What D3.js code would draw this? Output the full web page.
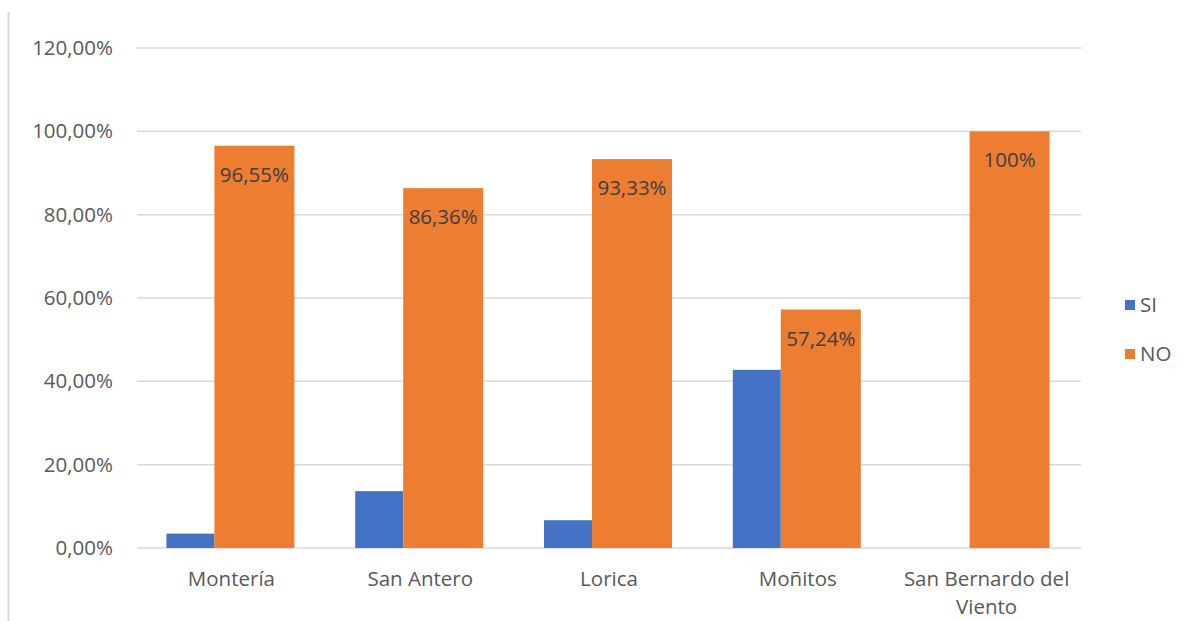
<!DOCTYPE html>
<html>
<head>
<meta charset="utf-8">
<script src="https://cdn.jsdelivr.net/npm/d3@7"></script>
<style>
  body { margin: 0; background: #fff; }
  svg { display: block; }
</style>
</head>
<body>
<script>
'use strict';

// chart data
const categories = ["Montería", "San Antero", "Lorica", "Moñitos", "San Bernardo del Viento"];
const siValues = [3.45, 13.64, 6.67, 42.76, 0];
const noValues = [96.55, 86.36, 93.33, 57.24, 100];
const noLabels = ["96,55%", "86,36%", "93,33%", "57,24%", "100%"];
const yTicks = [0, 20, 40, 60, 80, 100, 120];
const seriesNames = ["SI", "NO"];

const width = 1182, height = 621;
const font = "'Open Sans', sans-serif";
const fsize = "20.5px";
const colors = { SI: "#4472C4", NO: "#ED7D31" };

const svg = d3.select("body").append("svg")
  .attr("width", width)
  .attr("height", height);

// chart area border on the left
svg.append("line")
  .attr("x1", 8.5).attr("x2", 8.5)
  .attr("y1", 12).attr("y2", height)
  .attr("stroke", "#d9d9d9")
  .attr("stroke-width", 2);

const xScale = d3.scaleBand()
  .domain(categories)
  .range([137, 1081]);

const yScale = d3.scaleLinear()
  .domain([0, 120])
  .range([548, 48]);

// gridlines
svg.append("g")
  .selectAll("line")
  .data(yTicks)
  .enter()
  .append("line")
    .attr("x1", 137)
    .attr("x2", 1081)
    .attr("y1", d => yScale(d))
    .attr("y2", d => yScale(d))
    .attr("stroke", "#d9d9d9")
    .attr("stroke-width", 1.5);

// y axis labels
let fmt = d => d.toFixed(2).replace(".", ",") + "%";
let yAxis = d3.axisLeft(yScale).tickValues(yTicks).tickFormat(fmt).tickSize(0).tickPadding(0);
let yg = svg.append("g")
  .attr("transform", "translate(113, 0)")
  .call(yAxis);
yg.select(".domain").remove();
yg.selectAll("text")
  .style("font-family", font)
  .style("font-size", fsize)
  .attr("fill", "#595959");

// bars
const siW = 48, noW = 80;
let cx = d => xScale(d) + xScale.bandwidth() / 2;

svg.append("g")
  .selectAll("rect")
  .data(categories)
  .enter()
  .append("rect")
    .attr("x", d => cx(d) - 65)
    .attr("y", (d, i) => yScale(siValues[i]))
    .attr("width", siW)
    .attr("height", (d, i) => yScale(0) - yScale(siValues[i]))
    .attr("fill", colors.SI);

svg.append("g")
  .selectAll("rect")
  .data(categories)
  .enter()
  .append("rect")
    .attr("x", d => cx(d) - 17)
    .attr("y", (d, i) => yScale(noValues[i]))
    .attr("width", noW)
    .attr("height", (d, i) => yScale(0) - yScale(noValues[i]))
    .attr("fill", colors.NO);

// data labels on NO bars
svg.append("g")
  .selectAll("text")
  .data(categories)
  .enter()
  .append("text")
    .attr("x", d => cx(d) - 17 + noW / 2)
    .attr("y", (d, i) => yScale(noValues[i]) + 36)
    .attr("text-anchor", "middle")
    .style("font-family", font)
    .style("font-size", fsize)
    .attr("fill", "#404040")
    .text((d, i) => noLabels[i]);

// category labels, wrapped like the original
let xg = svg.append("g");
categories.forEach(function(c) {
  let lines = c === "San Bernardo del Viento" ? ["San Bernardo del", "Viento"] : [c];
  let t = xg.append("text")
    .attr("x", cx(c))
    .attr("y", 586)
    .attr("text-anchor", "middle")
    .style("font-family", font)
    .style("font-size", fsize)
    .attr("fill", "#595959");
  lines.forEach(function(l, j) {
    t.append("tspan")
      .attr("x", cx(c))
      .attr("dy", j === 0 ? 0 : 28)
      .text(l);
  });
});

// legend
let legend = svg.append("g");
seriesNames.forEach(function(s, i) {
  legend.append("rect")
    .attr("x", 1125)
    .attr("y", 300 + i * 49)
    .attr("width", 10)
    .attr("height", 10)
    .attr("fill", colors[s]);
  legend.append("text")
    .attr("x", 1140)
    .attr("y", 312 + i * 49)
    .style("font-family", font)
    .style("font-size", fsize)
    .attr("fill", "#595959")
    .text(s);
});
</script>
</body>
</html>
